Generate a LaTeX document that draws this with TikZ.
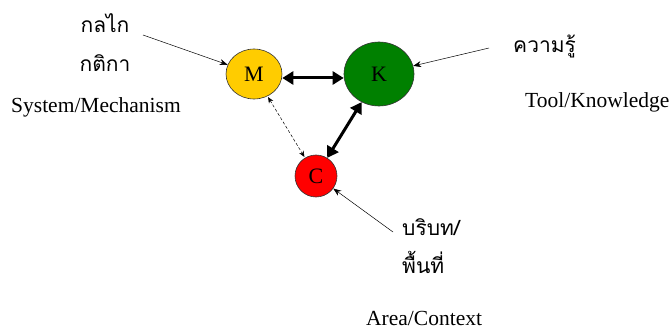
\documentclass[tikz,border=0pt]{standalone}
\usepackage{fontspec}
\setmainfont{Liberation Serif}
\newfontfamily\thaifont[Script=Thai]{Loma}
\usetikzlibrary{arrows.meta,shapes.geometric}
\definecolor{ycol}{HTML}{FFCC00}
\definecolor{gcol}{HTML}{008000}
\definecolor{rcol}{HTML}{FF0000}
\begin{document}
\begin{tikzpicture}[x=1pt,y=-1pt,
 ell/.style={ellipse,draw=black!80,line width=0.6pt,inner sep=0pt,font=\fontsize{22}{24}\selectfont},
 lat/.style={font=\fontsize{21.5}{24}\selectfont,inner sep=0pt},
 thai/.style={font=\thaifont\fontsize{21}{26}\selectfont,inner sep=0pt},
 ptr/.style={-{Stealth[length=8pt,width=6pt]},line width=0.5pt},
 big/.style={{Triangle[length=11pt,width=13pt]}-{Triangle[length=11pt,width=13pt]},line width=3pt},
 dsh/.style={{Stealth[length=6pt,width=5pt]}-{Stealth[length=6pt,width=5pt]},line width=0.5pt,dashed,dash pattern=on 3pt off 2pt}
 ]
\useasboundingbox (0,0) rectangle (669,331);
\node[ell,fill=ycol,minimum width=56,minimum height=50] (M) at (254,74) {M};
\node[ell,fill=gcol,minimum width=70,minimum height=64] (K) at (379,74) {K};
\node[ell,fill=rcol,minimum width=42,minimum height=42] (C) at (316,176) {C};
% labels
\node[thai,anchor=base] (t1) at (105,33) {กลไก};
\node[thai,anchor=base] (t2) at (105,72) {กติกา};
\node[lat,anchor=base] (t3) at (96,113) {System/Mechanism};
\node[thai,anchor=base west] (t4) at (513,53) {ความรู้};
\node[lat,anchor=base west] (t5) at (525,108) {Tool/Knowledge};
\node[thai,anchor=base west] (t6) at (402,235) {บริบท/};
\node[thai,anchor=base west] (t7) at (402,273) {พื้นที่};
\node[lat,anchor=base west] (t8) at (366,325) {Area/Context};
% free ends
\coordinate (pM) at (143,35);
\coordinate (pK) at (489,48);
\coordinate (pC) at (393,232);
\draw[ptr] (pM) -- (M);
\draw[ptr] (pK) -- (K);
\draw[ptr] (pC) -- (C);
% relations
\draw[big] ([yshift=-4pt]M.east) -- ([yshift=-4pt]K.west);
\draw[big] (C) -- (K);
\draw[dsh,shorten <=1pt,shorten >=1pt] (M) -- (C);
\end{tikzpicture}
\end{document}
